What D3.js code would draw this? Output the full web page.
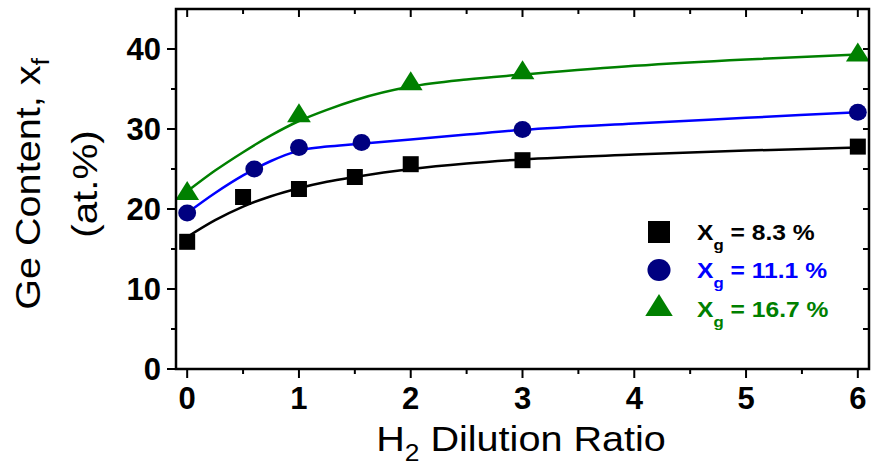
<!DOCTYPE html>
<html><head><meta charset="utf-8">
<script src="https://cdn.jsdelivr.net/npm/d3@7"></script>
<style>body{margin:0;background:#fff}svg{display:block}</style>
</head><body>
<script>
// ---- data ----
const xTicks = [0, 1, 2, 3, 4, 5, 6];
const yTicks = [0, 10, 20, 30, 40];

const blackX = [0, 0.5, 1, 1.5, 2, 3, 6];
const blackY = [15.9, 21.5, 22.5, 24.0, 25.6, 26.1, 27.8];
const blueX = [0, 0.6, 1, 1.56, 3, 6];
const blueY = [19.5, 25.0, 27.7, 28.3, 29.95, 32.1];
const greenX = [0, 1, 2, 3, 6];
const greenY = [22.2, 31.9, 35.9, 37.3, 39.5];

const fitX = [0, 0.25, 0.5, 0.75, 1, 1.25, 1.5, 2, 2.5, 3, 4, 5, 6];
const blackFit = [16.5, 18.6, 20.3, 21.6, 22.6, 23.4, 24.0, 25.0, 25.7, 26.2, 26.8, 27.3, 27.7];
const blueFit = [19.5, 22.0, 24.2, 26.0, 27.3, 27.8, 28.1, 28.7, 29.3, 29.9, 30.7, 31.4, 32.1];
const greenFit = [22.2, 24.8, 27.1, 29.2, 31.0, 32.4, 33.6, 35.3, 36.2, 36.8, 37.9, 38.7, 39.3];

const legendLabels = ["8.3 %", "11.1 %", "16.7 %"];

// ---- layout ----
const W = 872, H = 467;
const L = 176, R = 869, T = 9, B = 369;
const svg = d3.select("body").append("svg").attr("width", W).attr("height", H)
  .style("font-family", "'Liberation Sans', Arial, sans-serif");

const x = d3.scaleLinear().domain([-0.1, 6.1]).range([L, R]);
const y = d3.scaleLinear().domain([0, 45]).range([B, T]);

// ---- fit curves ----
const line = d3.line().x(d => x(d[0])).y(d => y(d[1])).curve(d3.curveMonotoneX);
const series = [
  {fit: blackFit, xs: blackX, ys: blackY, line: "#000000", mark: "#000000", text: "#000000", shape: "square"},
  {fit: blueFit, xs: blueX, ys: blueY, line: "#0000ff", mark: "#000080", text: "#0000ff", shape: "circle"},
  {fit: greenFit, xs: greenX, ys: greenY, line: "#008000", mark: "#008000", text: "#008000", shape: "triangle"}
];
series.forEach(s => {
  svg.append("path").datum(fitX.map((v, i) => [v, s.fit[i]]))
    .attr("d", line).attr("fill", "none").attr("stroke", s.line).attr("stroke-width", 2.5);
});

function drawMarker(g, shape, cx, cy, size, color) {
  if (shape === "square") {
    g.append("rect").attr("x", cx - size / 2).attr("y", cy - size / 2)
      .attr("width", size).attr("height", size).attr("fill", color);
  } else if (shape === "circle") {
    g.append("ellipse").attr("cx", cx).attr("cy", cy).attr("rx", size / 2 * 1.05).attr("ry", size / 2).attr("fill", color);
  } else {
    const w = size * 1.25, h = size;
    g.append("path").attr("d", `M${cx - w / 2},${cy + h * 0.45}L${cx + w / 2},${cy + h * 0.45}L${cx},${cy - h * 0.55}Z`).attr("fill", color);
  }
}
const marks = svg.append("g");
series.forEach(s => {
  s.xs.forEach((v, i) => {
    const sz = s.shape === "square" ? 16 : (s.shape === "circle" ? 17 : 19);
    drawMarker(marks, s.shape, x(v), y(s.ys[i]), sz, s.mark);
  });
});

// ---- axes ----
const ax = svg.append("g");
const sw = 2.5;
ax.append("rect").attr("x", L).attr("y", T).attr("width", R - L).attr("height", B - T)
  .attr("fill", "none").attr("stroke", "#000").attr("stroke-width", sw);

const xMinor = d3.range(0.5, 6, 1);
const yMinor = d3.range(5, 45, 10);
function ticks(vals, fn, len) {
  vals.forEach(v => { const c = fn(v, len); ax.append("line").attr("x1", c[0]).attr("y1", c[1]).attr("x2", c[2]).attr("y2", c[3]).attr("stroke", "#000").attr("stroke-width", 2); });
}
ticks(xTicks, (v, l) => [x(v), B, x(v), B + l], 9);
ticks(xMinor, (v, l) => [x(v), B, x(v), B + l], 5);
ticks(xTicks, (v, l) => [x(v), T, x(v), T + l], 8);
ticks(xMinor, (v, l) => [x(v), T, x(v), T + l], 5);
ticks(yTicks, (v, l) => [L, y(v), L - l, y(v)], 9);
ticks(yMinor, (v, l) => [L, y(v), L - l, y(v)], 5);
ticks(yTicks, (v, l) => [R, y(v), R - l, y(v)], 6);
ticks(yMinor, (v, l) => [R, y(v), R - l, y(v)], 6);

// tick labels
svg.append("g").selectAll("text").data(xTicks).join("text")
  .attr("x", d => x(d)).attr("y", 409).attr("text-anchor", "middle")
  .attr("font-size", 31).attr("font-weight", "bold").text(d => d);
svg.append("g").selectAll("text").data(yTicks).join("text")
  .attr("x", 161).attr("y", d => y(d) + 11).attr("text-anchor", "end")
  .attr("font-size", 31).attr("font-weight", "bold").text(d => d);

// axis titles
const xt = svg.append("text").attr("transform", "translate(521,451) scale(1.1,1)").attr("text-anchor", "middle").attr("font-size", 36);
xt.append("tspan").text("H");
xt.append("tspan").attr("font-size", 24).attr("dy", 10).text("2");
xt.append("tspan").attr("dy", -10).text(" Dilution Ratio");

const yt1 = svg.append("text").attr("transform", "translate(40,184) rotate(-90) scale(1.1,1)").attr("text-anchor", "middle").attr("font-size", 36);
yt1.append("tspan").text("Ge Content, x");
yt1.append("tspan").attr("font-size", 24).attr("dy", 9).text("f");
svg.append("text").attr("transform", "translate(97,184) rotate(-90) scale(1.12,1)").attr("text-anchor", "middle").attr("font-size", 36)
  .text("(at.%)");

// legend
const legY = [240, 278, 317];
const legMY = [232, 270, 306];
const lg = svg.append("g");
series.forEach((s, i) => {
  drawMarker(lg, s.shape, 659, legMY[i], 22, s.mark);
  const t = lg.append("text").attr("transform", `translate(697,${legY[i]}) scale(1.12,1)`).attr("font-size", 22).attr("font-weight", "bold").attr("fill", s.text);
  t.append("tspan").text("X");
  t.append("tspan").attr("font-size", 15).attr("dy", 10).text("g");
  t.append("tspan").attr("dy", -10).text(" = " + legendLabels[i]);
});
</script>
</body></html>
